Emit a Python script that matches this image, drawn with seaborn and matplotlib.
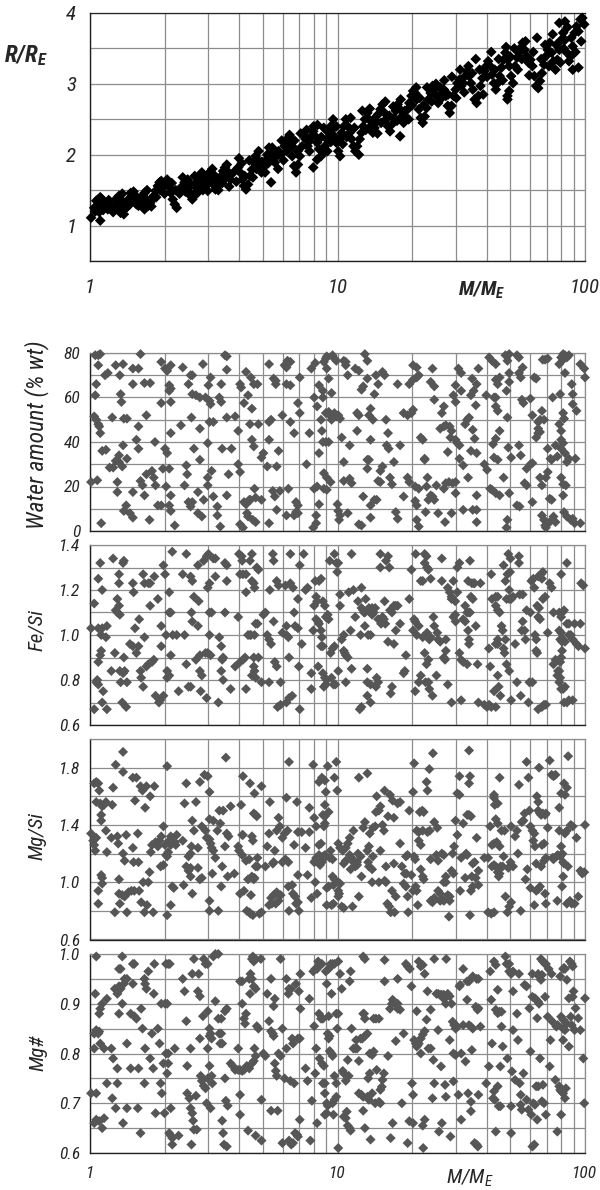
import matplotlib
matplotlib.use("Agg")
import matplotlib.pyplot as plt
import matplotlib.ticker as mticker
from matplotlib import font_manager
import pandas as pd
import seaborn as sns

# --- data (mass in Earth masses) ---
radius_pts = [
    (1.01,1.11),(1.04,1.25),(1.06,1.35),(1.08,1.37),(1.10,1.40),(1.12,1.37),(1.11,1.28),(1.09,1.19),(1.10,1.07),
    (1.14,1.32),(1.16,1.28),(1.18,1.23),(1.20,1.30),(1.22,1.28),(1.24,1.19),
    (1.27,1.37),(1.29,1.32),(1.31,1.42),(1.33,1.37),(1.36,1.28),(1.38,1.23),(1.33,1.18),(1.37,1.16),(1.41,1.32),(1.43,1.37),
    (1.46,1.46),(1.48,1.42),(1.51,1.37),(1.54,1.30),(1.57,1.28),(1.60,1.37),(1.63,1.42),(1.66,1.46),(1.69,1.37),(1.72,1.28),(1.75,1.32),
    (1.66,1.23),(1.78,1.37),(1.81,1.42),(1.84,1.49),(1.88,1.56),(1.91,1.61),(1.94,1.63),(1.98,1.56),(2.01,1.58),(2.09,1.54),(2.12,1.46),(2.16,1.37),(2.20,1.30),(2.24,1.25),
    (2.37,1.68),(2.41,1.61),(2.45,1.56),(2.50,1.49),(2.55,1.42),(2.59,1.37),(2.63,1.44),(2.68,1.54),(2.73,1.63),(2.78,1.70),(2.83,1.75),(2.88,1.65),(2.93,1.56),(2.99,1.49),
    (3.04,1.75),(3.10,1.65),(3.15,1.58),(3.21,1.51),(3.27,1.56),(3.33,1.63),(3.39,1.70),(3.45,1.77),(3.51,1.82),(3.57,1.86),(3.63,1.75),(3.70,1.65),
    (3.97,1.82),(4.04,1.75),(4.12,1.65),(4.19,1.56),(4.27,1.51),(4.35,1.58),(4.43,1.70),(4.51,1.79),(4.59,1.89),(4.67,1.98),(4.75,1.93),(4.84,1.84),(4.93,1.75),(5.02,1.82),(5.11,1.91),(5.20,2.00),(5.29,2.10),(5.39,2.00),
    (5.39,1.61),
    (5.48,1.93),(5.58,1.89),(5.68,1.98),(5.78,2.05),(5.89,2.00),(6.11,2.12),(6.22,2.17),(6.33,2.24),(6.45,2.22),(6.56,2.12),(6.68,1.84),(6.80,1.75),(6.92,1.86),(7.04,1.98),(6.56,1.98),
    (7.30,2.29),(7.43,2.22),(7.57,2.12),(7.70,2.19),(7.84,2.26),(7.98,2.33),(8.13,2.26),(8.27,2.17),(8.42,2.08),(8.58,1.98),(8.73,2.03),(8.89,2.12),(9.05,2.22),(9.21,2.31),(9.38,2.40),(9.55,2.36),(9.72,2.26),(9.89,2.17),(10.07,2.05),(10.24,1.98),
    (7.98,1.82),(8.27,1.93),
    (10.4,2.31),(10.6,2.40),(10.8,2.50),(11.0,2.40),(11.2,2.31),(11.4,2.22),(11.6,2.12),(11.8,2.05),(12.0,2.12),(12.3,2.22),(12.5,2.31),(12.7,2.40),(12.9,2.50),(13.2,2.59),(13.4,2.50),(13.6,2.40),(13.9,2.31),
    (14.1,2.38),(14.4,2.47),(14.6,2.57),(14.9,2.64),(15.2,2.71),(15.5,2.59),(15.7,2.50),(16.0,2.40),(16.3,2.33),(16.6,2.43),(16.9,2.52),(17.2,2.62),(17.5,2.71),(17.9,2.64),(18.2,2.54),(18.5,2.45),(18.9,2.52),
    (17.9,2.26),
    (19.2,2.64),(19.5,2.73),(19.9,2.83),(20.2,2.90),(20.6,2.87),(20.9,2.78),(21.3,2.64),(21.7,2.52),(22.1,2.45),(22.5,2.54),(22.9,2.66),(23.3,2.78),(23.8,2.87),(24.2,2.97),(24.6,2.92),
    (25.1,2.83),(25.5,2.73),(26.0,2.78),(26.4,2.87),(26.9,2.92),(27.4,2.83),(27.9,2.69),(28.4,2.59),(28.9,2.69),(29.4,2.83),(30.0,2.92),(30.5,3.01),(31.1,3.06),(31.6,2.97),(32.2,3.01),(32.8,3.11),(33.4,3.18),
    (34.0,3.11),(34.6,3.01),(35.2,2.92),(35.8,2.78),(36.5,2.73),(37.1,2.83),(37.8,2.97),(38.5,3.08),(39.2,3.18),(39.9,3.25),(40.6,3.32),(41.4,3.25),(42.1,3.13),(42.9,3.01),(43.6,2.92),
    (44.4,3.01),(45.2,3.11),(46.0,3.23),(46.9,3.34),(47.7,3.44),(48.6,3.34),(49.4,3.25),(50.3,3.11),(51.2,3.01),(49.4,2.90),(48.6,2.83),(48.6,2.78),
    (52.2,3.25),(53.1,3.37),(54.1,3.44),(55.0,3.51),(56.0,3.58),(57.0,3.48),(58.1,3.39),(59.1,3.30),(60.2,3.34),(61.3,3.25),(62.4,3.11),(63.5,2.97),(64.7,2.94),(65.8,3.04),(67.0,3.15),(68.3,3.27),(69.5,3.39),(70.7,3.48),(72.0,3.58),(73.3,3.44),
    (74.6,3.32),(76.0,3.20),(77.3,3.34),(78.7,3.48),(80.1,3.62),(81.6,3.72),(83.0,3.62),(84.5,3.44),(86.1,3.32),(87.6,3.39),(89.2,3.53),(90.8,3.72),(92.4,3.81),(94.1,3.74),(95.8,3.91),(97.5,3.93),(99.3,3.84),(89.2,3.20),(94.1,3.23),(78.7,3.86),(83.0,3.88),
    (1.05,1.20),(1.13,1.22),(1.19,1.36),(1.25,1.25),(1.30,1.22),(1.35,1.45),(1.40,1.25),(1.45,1.30),(1.50,1.48),(1.55,1.40),(1.62,1.32),(1.70,1.50),(1.77,1.27),(1.85,1.40),(1.92,1.50),(2.00,1.45),(2.05,1.65),(2.14,1.60),(2.22,1.50),(2.30,1.45),
    (2.35,1.55),(2.43,1.48),(2.48,1.65),(2.57,1.58),(2.65,1.70),(2.70,1.45),(2.80,1.58),(2.86,1.50),(2.95,1.70),(3.02,1.60),(3.12,1.80),(3.20,1.70),(3.30,1.50),(3.42,1.60),(3.55,1.68),(3.65,1.55),(3.80,1.75),(3.90,1.62),(4.00,1.95),(4.10,1.88),
    (4.22,1.70),(4.40,1.92),(4.55,1.68),(4.70,1.80),(4.80,2.05),(4.95,1.90),(5.10,1.75),(5.25,1.88),(5.45,2.10),(5.60,2.05),(5.75,1.80),(5.95,2.20),(6.05,1.92),(6.25,2.05),(6.40,2.28),(6.70,2.20),(6.90,2.05),(7.10,2.30),(7.20,2.12),(7.50,2.35),
    (7.70,2.05),(8.00,2.40),(8.30,2.42),(8.60,2.25),(8.80,2.38),(9.10,2.05),(9.40,2.18),(9.60,2.50),(9.90,2.40),(10.2,2.22),(10.5,2.15),(10.9,2.25),(11.3,2.52),(11.7,2.38),(12.2,2.00),(12.6,2.62),(13.0,2.35),(13.5,2.65),(14.0,2.50),(14.5,2.30),
    (15.0,2.45),(15.6,2.75),(16.2,2.55),(16.8,2.68),(17.4,2.48),(18.0,2.78),(18.7,2.62),(19.4,2.50),(20.0,2.70),(20.8,2.95),(21.5,2.80),(22.3,2.70),(23.0,2.95),(24.0,2.75),(25.0,3.00),(26.0,2.95),(27.0,3.05),(28.0,2.85),(29.0,3.10),(30.2,2.80),
    (31.3,3.20),(32.5,2.88),(33.8,3.25),(35.0,3.15),(36.2,3.35),(37.5,3.20),(38.8,2.85),(40.2,3.10),(41.8,3.45),(43.2,3.20),(44.8,3.35),(46.5,3.05),(48.0,3.52),(50.0,3.38),(51.8,3.50),(53.5,3.20),(55.5,3.35),(57.5,3.60),(59.5,3.12),(61.8,3.45),
    (64.0,3.65),(66.5,3.35),(69.0,3.55),(71.5,3.25),(74.0,3.70),(76.5,3.55),(79.5,3.30),(82.0,3.50),(85.0,3.80),(88.0,3.65),(91.5,3.45),(96.5,3.60),
]

water_pts = [
    (1.01,22),(1.05,79),(1.08,79),(1.10,79.5),(1.05,61),(1.06,66),(1.04,51.5),(1.06,50),(1.08,48),(1.09,47),(1.10,44),(1.08,74.5),(1.11,3.5),(1.07,22.8),(1.12,36),(1.16,36.5),(1.15,70),(1.18,71),(1.20,28.5),(1.24,28.5),
    (1.23,51),(1.27,74.5),(1.27,31.5),(1.31,31),(1.29,22),(1.31,34),(1.32,70),(1.33,61.5),(1.34,58),(1.35,29),(1.29,17.5),(1.36,75),(1.36,38.5),(1.37,50.5),(1.41,50.5),(1.37,9),(1.41,32.5),(1.40,11.5),(1.45,8),(1.49,6),
    (1.49,66),(1.49,17.5),(1.49,73),(1.57,73),(1.57,47),(1.54,41),(1.57,37),(1.60,79.5),(1.60,22.5),(1.63,20.5),(1.66,16),(1.66,66.5),(1.75,66.5),(1.69,52),(1.69,25.5),(1.74,5),(1.78,27),(1.81,24),(1.83,40),(1.84,20.5),
    (1.88,11.5),(1.94,76),(1.94,11.5),(1.94,57.5),(1.97,28),(2.09,28),(2.01,73),(2.05,72),(2.01,37),(2.05,35),(2.03,20),(2.09,65.5),(2.12,64),(2.09,63),(2.09,11.5),(2.12,9),(2.12,44),(2.12,58),(2.12,74.5),(2.20,2.5),
    (2.12,16),(2.33,47.5),(2.37,73.5),(2.41,20.5),(2.45,29.5),(2.47,25.5),(2.50,66),(2.50,13),(2.55,11),(2.59,13),(2.55,70),(2.59,70),(2.57,51),(2.59,61.5),(2.63,37),(2.68,61),(2.78,60),(2.73,17.5),(2.73,8),(2.78,32),
    (2.83,6.5),(2.78,46),(2.86,75),(2.88,14),(2.93,60),(2.99,24),(2.99,20.5),(2.99,39.5),(3.01,65.5),(3.04,58.5),(3.07,57),(3.04,49),(3.15,49),(3.10,27),(3.07,69),(3.15,15.5),(3.27,11),(3.27,7),(3.36,2),(3.33,60),
    (3.39,58),(3.39,66),(3.42,37),(3.51,79),(3.57,78.5),(3.57,72.5),(3.57,51),(3.57,16),(3.63,25.5),(3.73,37),(3.86,51.5),(3.97,45),(4.04,66),(4.08,64.5),(3.97,30),(4.04,26.5),(4.04,3),(4.15,1.5),(4.19,13),(4.27,12),
    (4.19,57.5),(4.27,71.5),(4.31,8),(4.35,6.5),(4.35,61),(4.40,14),(4.45,14),(4.43,48),(4.47,69),(4.51,55),(4.51,41),(4.55,5),(4.59,66),(4.59,38),(4.62,19),(4.67,15),(4.67,4),(4.75,66),(4.79,48),(4.93,33),
    (5.02,35),(4.93,14),(5.20,29),(5.29,75),(5.29,3.5),(5.29,49),(5.39,50),(5.29,41),(5.48,18),(5.52,68.5),(5.63,67.5),(5.63,66),(5.58,15.5),(5.68,9.5),(5.68,29),(5.78,36),(5.85,18),(5.99,52),(6.11,74.5),(6.22,73.5),
    (6.28,76.5),(6.45,76),(6.22,66),(6.45,65.5),(6.22,7),(6.33,19),(6.45,49),(6.68,44),(6.68,7),(6.80,8.5),(6.80,13),(6.92,57.5),(6.92,11.5),(7.04,69),(7.04,53),(6.92,8),(7.70,44),(7.50,30),(7.84,73),(8.05,60),
    (8.05,19),(8.27,20),(7.98,1.5),(8.20,3.5),(8.20,7),(8.13,75.5),(8.27,56),(8.42,12),(8.42,35),(8.42,65.5),(8.58,50),(8.65,45),(8.73,40),(8.73,63),(8.73,60),(8.81,76),(8.97,77.5),(9.05,78.5),(8.81,26),(9.05,24),
    (8.81,19),(9.05,18.5),(8.97,53),(9.21,53.5),(8.97,40),(9.21,40),(9.05,73),(9.21,68.5),(9.30,52),(9.38,22),(9.46,50),(9.46,62),(9.55,79),(9.72,77.5),(9.72,53),(9.89,51.5),(9.89,76.5),(10.0,12),(10.07,9),(10.24,7),
    (10.15,5),(10.07,52),(10.24,50.5),(10.4,42),(10.6,31),(10.6,76.5),(10.8,76),(10.8,74.5),(11.0,70),(10.6,22.5),(11.0,8),(11.2,23.5),(11.4,21.5),(11.2,38.5),(11.8,73),(12.2,72),(12.0,45),(12.0,53),(12.2,52),(12.2,3),
    (12.5,2.5),(12.7,65),(12.5,63.5),(12.7,15.5),(12.9,79.5),(13.2,76.5),(13.2,68.5),(13.2,32),(13.4,32),(13.2,28),(13.4,52),(13.6,55),(13.6,41),(13.6,6),(13.6,11.5),(13.9,50),(14.1,61.5),(14.1,14),(14.4,14),(14.3,70),
    (14.6,66),(14.6,22.5),(14.9,22),(14.9,27),(15.2,29),(15.2,71.5),(15.5,70),(15.7,50),(15.8,38.5),(16.1,37),(16.0,44),(16.3,24),(16.6,21),(16.9,31),(17.2,8.5),(17.5,5.5),(17.5,66),(17.9,38.5),(18.5,53),(19.2,52),
    (18.5,15.5),(19.2,24),(19.5,22),(19.5,66),(19.9,53),(20.2,54.5),(20.2,74.5),(20.9,73.5),(20.2,68),(20.9,69),(21.3,70),(20.6,13.5),(20.9,11.5),(20.6,20),(21.3,19),(20.9,5),(21.3,2),(21.7,42),(22.1,41),(22.5,32),
    (22.5,32.5),(22.9,20),(23.1,24),(22.7,8.5),(23.3,14),(23.8,16),(23.8,67),(24.2,15.5),(24.6,14),(24.2,73),(24.6,59),(24.6,65),(25.1,20.5),(25.5,8),(26.0,46),(26.9,47),(27.4,47.5),(26.4,53),(26.9,19),(27.2,4),
    (27.4,21.5),(28.2,22),(26.9,56),(27.9,35.5),(28.4,47),(28.9,45),(28.6,42),(28.9,8),(29.2,21.5),(30.0,22),(29.4,61),(30.0,58),(30.0,41),(30.5,39.5),(31.1,38.5),(30.0,65.5),(30.0,17),(30.8,73),(31.1,32.5),(31.6,63),
    (31.6,71),(32.2,29.5),(32.2,9.5),(32.8,48),(33.4,50),(34.0,51),(33.7,24),(34.6,36),(35.0,68.5),(35.2,45.5),(35.2,9.5),(35.5,63),(34.6,61),(35.8,41.5),(36.2,56.5),(36.5,9.5),(36.5,16),(36.5,4),(36.5,66),(36.5,35),
    (37.1,73),(39.2,30),(39.9,61),(40.2,27.5),(41.0,78),(42.1,76.5),(43.6,75),(41.4,19),(42.1,18.5),(42.5,39),(43.6,41.5),(42.9,60),(43.6,60),(42.9,33),(44.4,32),(43.6,56),(44.4,54),(43.6,68),(44.4,66),(45.2,69),
    (43.6,17),(45.2,16),(45.2,45),(46.9,24),(47.7,79),(49.4,79.5),(48.6,76.5),(48.2,63),(48.6,51),(48.6,5),(48.2,1.5),(49.0,37.5),(49.4,67),(49.4,71),(49.4,17),(50.3,33),(54.1,71),(55.0,69),(53.1,79),(54.1,78),
    (53.1,11.5),(54.4,11),(54.1,38.5),(55.0,34),(55.6,59),(56.4,57.5),(56.0,73.5),(57.0,21.5),(58.1,20.5),(58.1,28),(60.2,30),(61.3,30.5),(60.2,59.5),(61.3,13),(61.3,52),(62.4,69),(63.5,68.5),(63.5,42),(64.7,44),(65.8,44.5),
    (65.8,50),(64.7,49),(64.7,46),(65.8,24),(67.0,20.5),(67.0,7),(68.3,5),(69.0,2.5),(67.5,77),(69.0,77),(70.7,77.5),(67.0,54),(68.3,50),(69.5,1.5),(70.7,26.5),(70.7,37),(69.5,24),(72.0,4),(72.5,32.5),(73.3,32),
    (72.0,14.5),(73.3,14),(74.0,60),(74.6,6.5),(76.0,4),(76.0,38.5),(77.3,33.5),(78.7,48),(80.1,45),(78.7,75),(80.1,78),(81.6,79.5),(83.0,79),(84.5,78),(81.6,77),(79.4,61.5),(80.1,24),(81.6,21),(80.1,41),(81.6,39.5),
    (81.6,16),(80.1,37),(81.6,53),(82.3,50.5),(82.3,8.5),(84.5,6.5),(83.0,71),(83.0,35),(84.5,31),(83.7,20.5),(86.1,32.5),(86.1,79),(87.6,5),(89.2,5.5),(88.4,66),(89.2,61.5),(89.2,57),(90.8,3.5),(91.5,32.5),(92.4,54),
    (95.8,75),(95.8,3.5),(99.3,73),(100,69),
]

fe_si_pts = [
    (1.01,1.03),(1.04,1.14),(1.04,0.67),(1.06,0.79),(1.08,0.78),(1.07,0.80),(1.08,1.03),(1.12,1.03),(1.08,1.25),(1.10,1.32),(1.08,0.88),(1.10,0.91),(1.11,0.93),(1.12,1.20),(1.11,1.00),(1.12,0.70),(1.13,0.75),(1.16,0.99),(1.17,0.67),(1.17,1.04),
    (1.22,0.84),(1.24,1.34),(1.26,0.92),(1.27,1.11),(1.29,1.10),(1.29,1.16),(1.31,1.13),(1.31,1.27),(1.31,1.23),(1.32,1.09),(1.32,0.84),(1.33,0.79),(1.35,0.70),(1.36,0.83),(1.38,0.84),(1.37,1.33),(1.36,1.32),(1.37,0.90),(1.40,0.68),(1.41,0.79),
    (1.45,0.96),(1.49,0.95),(1.49,1.23),(1.50,1.19),(1.52,1.03),(1.54,0.92),(1.57,0.95),(1.58,1.07),(1.60,0.84),(1.61,0.81),(1.64,0.77),(1.64,1.27),(1.66,1.23),(1.66,0.99),(1.69,0.86),(1.72,0.87),(1.72,1.23),(1.75,1.23),(1.75,1.13),(1.78,0.88),
    (1.81,0.89),(1.82,1.26),(1.84,0.73),(1.88,1.16),(1.90,0.70),(1.92,0.71),(1.94,1.04),(1.94,0.95),(1.98,1.31),(1.98,0.73),(2.01,1.27),(2.03,1.00),(2.05,0.84),(2.05,0.81),(2.09,0.82),(2.09,1.19),(2.09,1.10),(2.12,1.10),(2.15,1.37),(2.16,1.00),
    (2.12,0.91),(2.24,1.00),(2.28,0.75),(2.37,1.27),(2.41,1.00),(2.45,1.36),(2.45,0.87),(2.50,0.77),(2.55,0.77),(2.55,1.26),(2.59,1.24),(2.57,1.10),(2.59,1.06),(2.63,1.17),(2.68,0.89),(2.73,1.04),(2.73,1.31),(2.75,1.15),(2.78,0.84),(2.78,0.91),
    (2.80,0.75),(2.83,0.82),(2.88,1.33),(2.96,1.35),(2.93,0.92),(2.99,0.92),(2.96,0.72),(2.99,1.21),(3.04,1.23),(3.01,1.36),(3.04,1.00),(3.04,1.10),(3.10,1.10),(3.07,0.91),(3.15,1.34),(3.21,1.34),(3.21,1.26),(3.30,0.70),(3.33,0.99),(3.39,0.95),
    (3.45,0.90),(3.42,0.89),(3.39,0.84),(3.45,0.80),(3.51,1.32),(3.57,1.31),(3.51,1.10),(3.57,1.24),(3.70,0.76),(3.86,0.86),(3.97,1.08),(4.00,1.36),(4.10,1.35),(4.12,1.33),(4.04,0.88),(4.15,0.89),(4.23,0.90),(4.04,1.27),(4.15,1.27),(4.27,1.27),
    (4.27,0.76),(4.27,1.19),(4.35,1.00),(4.43,1.00),(4.47,1.00),(4.43,1.33),(4.51,1.36),(4.51,1.24),(4.59,1.23),(4.62,1.21),(4.51,0.82),(4.59,0.86),(4.67,0.81),(4.62,0.84),(4.59,0.90),(4.62,1.00),(4.67,1.05),(4.75,1.05),(4.72,1.30),(4.79,1.29),
    (4.79,0.90),(4.93,0.79),(5.02,1.09),(5.11,1.10),(5.20,1.00),(5.29,0.98),(5.39,0.96),(5.29,0.79),(5.33,1.20),(5.48,1.36),(5.52,1.33),(5.52,1.06),(5.58,0.88),(5.68,0.86),(5.68,1.24),(5.73,0.68),(5.89,0.69),(5.78,1.22),(5.89,0.79),(5.99,1.01),
    (6.16,1.22),(6.22,1.04),(6.33,0.99),(6.22,1.00),(6.22,0.70),(6.37,0.72),(6.37,0.90),(6.45,1.36),(6.45,1.23),(6.61,1.21),(6.56,0.73),(6.68,1.10),(6.74,1.04),(6.92,1.03),(6.92,1.16),(6.98,0.86),(7.04,0.67),(7.04,1.31),(7.17,0.96),(7.30,1.36),
    (7.43,1.20),(7.57,1.21),(7.84,0.83),(7.84,0.76),(7.98,1.02),(8.05,1.13),(8.20,1.17),(8.27,1.15),(8.13,1.24),(8.20,1.07),(8.35,1.06),(8.35,0.86),(8.42,1.24),(8.58,1.25),(8.42,1.05),(8.58,1.02),(8.65,0.99),(8.58,0.95),(8.73,0.95),(8.73,0.83),
    (8.89,0.81),(8.73,1.15),(8.89,1.13),(8.81,0.77),(8.97,0.78),(8.97,1.08),(9.13,1.09),(9.05,0.80),(9.21,1.07),(9.30,1.33),(9.38,0.92),(9.46,0.81),(9.55,0.94),(9.72,0.95),(9.63,0.78),(9.80,0.78),(9.72,1.36),(9.89,1.32),(10.07,1.32),(9.98,1.28),
    (10.07,0.84),(10.24,1.18),(10.24,1.13),(10.4,0.98),(10.6,1.00),(10.6,0.93),(10.8,0.91),(11.0,0.90),(10.7,0.92),(10.8,0.79),(11.1,1.19),(11.3,1.02),(11.4,1.36),(11.4,0.85),(11.6,1.20),(11.8,1.08),(12.1,1.15),(12.3,0.67),(12.5,0.68),(12.4,1.00),
    (12.5,1.21),(12.5,1.12),(12.7,1.11),(12.8,1.10),(12.9,1.10),(12.9,1.04),(13.0,1.16),(13.2,0.73),(13.2,0.85),(13.2,0.79),(13.6,0.78),(13.3,1.00),(13.6,1.00),(13.4,1.12),(13.6,1.10),(13.8,1.09),(13.6,0.70),(13.8,1.12),(14.0,1.10),(14.2,1.12),
    (14.3,0.77),(14.4,0.81),(14.6,0.79),(14.6,1.07),(14.9,1.36),(14.9,1.30),(15.0,1.05),(15.2,1.08),(15.4,1.07),(15.5,1.15),(15.6,1.05),(15.7,1.33),(16.0,1.35),(16.0,0.97),(16.2,1.30),(16.3,1.11),(16.6,1.10),(16.4,0.74),(16.6,0.77),(16.9,1.13),
    (17.2,1.13),(17.5,1.13),(16.9,0.96),(17.2,1.02),(17.9,1.05),(18.5,0.83),(18.7,0.84),(18.9,0.91),(19.5,1.16),(19.9,1.29),(20.2,1.02),(20.4,1.07),(20.6,1.06),(20.6,0.75),(20.7,1.36),(20.9,1.00),(21.3,1.04),(21.3,0.79),(21.7,1.24),(21.7,0.82),
    (22.1,0.99),(22.1,1.24),(22.5,1.36),(22.9,1.35),(22.5,1.32),(23.0,1.30),(23.3,1.29),(22.5,0.92),(22.9,0.87),(23.3,0.89),(22.7,0.79),(23.3,0.79),(23.5,0.76),(23.0,1.01),(23.5,0.98),(23.8,0.99),(23.8,1.25),(24.2,0.73),(24.4,1.08),(24.6,1.04),
    (25.3,1.01),(25.1,0.82),(25.5,0.98),(26.0,0.97),(26.4,1.34),(26.4,1.24),(26.9,0.90),(27.2,0.89),(27.4,0.98),(27.4,0.93),(27.9,0.78),(27.9,1.21),(28.4,1.19),(28.9,1.17),(28.9,1.16),(29.9,1.15),(28.9,0.70),(29.4,1.24),(29.4,1.08),(29.9,1.09),
    (30.0,1.06),(30.5,1.19),(30.5,1.30),(31.1,1.32),(31.1,0.92),(31.6,0.89),(32.2,0.88),(31.6,0.71),(32.2,1.07),(32.8,1.06),(32.8,1.13),(33.4,0.87),(33.4,1.10),(34.0,1.10),(34.3,1.10),(33.7,1.24),(34.0,0.96),(34.0,0.98),(33.7,1.02),(34.3,1.33),
    (34.6,1.17),(35.2,1.16),(34.9,1.23),(35.5,1.23),(35.8,1.23),(36.2,1.04),(36.8,0.87),(37.1,0.70),(37.8,1.23),(39.2,0.69),(40.2,0.68),(41.0,0.69),(41.8,0.68),(43.6,0.68),(40.9,0.94),(41.4,0.86),(41.8,1.27),(42.1,1.16),(43.6,1.17),(44.4,1.17),
    (42.9,0.75),(43.6,1.13),(44.4,1.11),(43.6,0.96),(44.4,0.96),(44.4,0.82),(44.4,0.98),(44.8,0.77),(45.2,1.10),(45.5,0.73),(46.0,1.04),(46.5,1.02),(46.9,1.31),(46.9,0.94),(47.3,0.92),(47.7,0.98),(47.7,1.24),(48.6,1.27),(49.8,1.28),(48.2,0.87),
    (48.2,1.16),(49.4,1.16),(49.0,1.36),(50.0,1.34),(49.4,0.84),(49.4,1.20),(50.3,0.71),(50.3,1.16),(51.2,1.17),(52.2,0.96),(53.1,0.79),(54.1,1.35),(54.1,1.32),(54.5,1.18),(56.0,1.18),(55.0,0.73),(55.5,1.02),(56.0,1.06),(57.0,1.02),(57.5,0.98),
    (58.1,1.11),(59.1,0.70),(59.6,0.79),(61.3,0.79),(60.2,1.10),(60.7,1.24),(61.8,1.25),(62.4,1.21),(62.8,1.00),(63.5,0.98),(63.5,0.93),(64.1,0.92),(64.1,1.13),(65.2,1.12),(64.7,1.08),(65.8,1.07),(64.7,0.67),(67.0,0.68),(68.3,0.69),(64.7,1.26),
    (66.4,1.27),(67.6,1.28),(67.0,1.25),(67.6,1.16),(69.0,1.17),(69.5,0.69),(70.7,1.01),(72.0,1.23),(73.3,1.21),(74.6,0.87),(76.0,0.89),(74.6,1.10),(77.3,0.82),(77.8,0.84),(78.7,0.84),(79.4,0.88),(80.1,0.90),(78.7,0.79),(79.4,0.81),(78.7,1.10),
    (80.1,1.08),(80.8,1.10),(82.3,1.11),(78.7,1.02),(80.1,1.01),(81.6,0.98),(80.8,0.93),(79.4,0.98),(80.1,0.76),(81.6,0.76),(80.1,1.27),(80.8,0.97),(83.0,0.97),(82.3,0.70),(84.5,0.70),(86.1,0.71),(89.2,0.71),(84.5,1.05),(86.1,1.05),(83.0,0.77),
    (84.5,1.32),(86.1,1.00),(87.6,1.00),(89.2,0.98),(90.8,1.05),(92.4,0.96),(94.1,0.95),(95.8,1.05),(96.5,1.23),(98.4,1.22),(100,0.94),
]

mg_si_pts = [
    (1.01,1.34),(1.03,1.29),(1.04,1.26),(1.05,1.22),(1.04,1.69),(1.06,1.70),(1.08,1.69),(1.06,1.56),(1.06,1.31),(1.08,0.94),(1.08,0.85),(1.09,1.64),(1.10,1.55),(1.12,1.53),(1.14,1.54),(1.11,1.47),(1.11,1.43),(1.11,1.05),(1.12,1.03),(1.12,0.99),
    (1.16,1.56),(1.16,1.36),(1.17,1.21),(1.22,1.31),(1.23,1.54),(1.24,1.66),(1.26,0.79),(1.27,1.82),(1.29,1.32),(1.30,1.27),(1.31,1.02),(1.31,0.92),(1.35,0.91),(1.32,0.85),(1.36,1.91),(1.36,1.77),(1.36,1.20),(1.38,1.15),(1.38,0.90),(1.40,1.33),
    (1.41,0.79),(1.43,0.93),(1.47,0.94),(1.51,0.94),(1.49,1.24),(1.49,1.73),(1.50,1.14),(1.52,1.57),(1.54,1.73),(1.56,1.34),(1.57,1.14),(1.58,0.94),(1.60,1.67),(1.61,0.86),(1.63,1.64),(1.64,1.00),(1.66,0.79),(1.67,1.52),(1.69,1.67),(1.70,0.84),
    (1.72,1.00),(1.74,1.07),(1.75,1.60),(1.76,1.21),(1.78,1.26),(1.80,0.79),(1.82,1.67),(1.84,1.28),(1.88,1.25),(1.91,1.29),(1.94,1.32),(1.93,1.11),(1.98,1.12),(1.98,1.39),(2.01,1.26),(2.03,1.19),(2.05,1.18),(2.07,1.21),(2.05,1.81),(2.05,0.77),
    (2.09,1.29),(2.12,1.26),(2.12,1.32),(2.12,0.84),(2.15,0.97),(2.18,0.96),(2.15,1.28),(2.20,1.28),(2.22,1.26),(2.24,1.33),(2.37,1.29),(2.39,0.98),(2.41,1.55),(2.45,1.69),(2.45,1.11),(2.50,1.08),(2.55,1.10),(2.50,1.18),(2.55,1.20),(2.55,1.04),
    (2.57,1.25),(2.59,1.43),(2.59,0.92),(2.63,1.36),(2.68,1.56),(2.73,1.24),(2.73,1.10),(2.78,1.02),(2.83,1.03),(2.78,1.70),(2.83,1.39),(2.90,1.75),(2.99,1.74),(2.93,1.36),(2.96,1.31),(3.04,1.30),(3.07,1.27),(3.04,1.63),(3.04,0.87),(3.04,0.80),
    (3.04,1.44),(3.15,1.43),(3.10,1.24),(3.15,1.22),(3.12,1.06),(3.21,1.17),(3.27,1.36),(3.30,0.80),(3.33,1.50),(3.36,1.41),(3.39,0.97),(3.42,1.11),(3.45,1.50),(3.51,1.25),(3.54,1.87),(3.57,1.34),(3.60,1.04),(3.63,1.32),(3.70,1.53),(3.83,1.06),
    (3.97,1.25),(4.00,1.22),(4.04,0.92),(4.08,1.54),(4.12,1.33),(4.15,1.33),(4.12,1.19),(4.15,1.74),(4.19,0.94),(4.27,1.15),(4.30,0.80),(4.40,0.79),(4.45,0.78),(4.55,0.77),(4.35,1.02),(4.40,1.16),(4.43,1.69),(4.47,0.91),(4.51,1.32),(4.55,1.29),
    (4.51,1.04),(4.59,1.02),(4.62,1.03),(4.59,1.48),(4.67,1.47),(4.72,1.46),(4.62,1.62),(4.67,1.11),(4.75,1.11),(4.75,1.17),(4.84,0.78),(4.93,0.79),(4.93,1.67),(5.11,1.11),(5.20,1.25),(5.29,1.34),(5.29,0.84),(5.43,0.85),(5.33,1.56),(5.39,0.89),
    (5.48,1.13),(5.52,1.14),(5.52,0.91),(5.63,0.92),(5.68,0.93),(5.58,1.22),(5.63,0.85),(5.78,0.87),(5.68,1.36),(5.85,1.39),(5.78,1.45),(5.89,0.91),(5.99,1.31),(6.11,1.34),(5.99,1.14),(6.16,1.16),(6.33,1.14),(6.22,1.59),(6.28,1.36),(6.33,0.97),
    (6.37,1.84),(6.37,0.80),(6.56,0.98),(6.61,0.92),(6.74,0.90),(6.80,0.85),(6.92,0.86),(6.68,1.26),(6.86,1.56),(6.92,1.05),(6.92,1.35),(6.98,0.80),(7.17,1.35),(7.43,1.24),(7.57,1.05),(7.70,1.52),(7.70,1.35),(7.84,0.89),(7.98,1.82),(8.05,1.14),
    (8.20,1.17),(8.27,1.16),(8.42,1.19),(8.13,1.15),(8.05,1.45),(8.13,1.00),(8.20,1.39),(8.27,0.92),(8.42,1.70),(8.65,1.73),(8.89,1.71),(8.42,1.26),(8.58,1.27),(8.50,1.12),(8.65,1.14),(8.81,1.17),(8.73,1.18),(8.89,1.19),(8.73,1.47),(8.89,1.46),
    (8.81,1.39),(8.89,1.41),(8.89,1.54),(8.97,1.63),(9.05,0.84),(9.05,0.96),(9.21,0.97),(9.13,1.81),(9.21,1.49),(9.30,1.17),(9.55,1.16),(9.38,1.22),(9.46,0.84),(9.63,0.85),(9.55,1.04),(9.72,1.02),(9.63,0.98),(9.72,1.73),(9.89,1.84),(9.98,1.64),
    (10.07,1.00),(10.24,0.99),(10.07,0.94),(10.07,1.27),(10.24,1.24),(10.07,0.90),(10.15,0.92),(10.4,0.83),(10.6,0.82),(10.5,1.22),(10.8,1.24),(10.6,1.13),(10.8,1.15),(11.0,1.27),(11.2,1.31),(11.2,1.19),(11.4,1.17),(11.6,1.14),(11.3,1.09),(11.5,0.83),
    (11.6,1.36),(11.8,1.11),(12.0,1.12),(12.0,1.14),(12.1,1.20),(12.4,1.18),(12.2,1.73),(12.2,0.90),(12.5,1.04),(12.7,1.38),(12.9,1.42),(13.2,1.76),(13.2,1.22),(13.4,1.25),(13.3,1.14),(13.4,1.11),(13.5,1.34),(13.8,1.09),(13.9,1.18),(13.8,1.00),
    (13.9,1.38),(14.2,1.39),(14.3,1.49),(14.7,1.50),(14.4,1.60),(14.7,1.00),(14.9,1.53),(14.9,1.22),(15.2,1.40),(15.4,1.36),(15.5,1.01),(15.7,1.00),(15.5,1.64),(15.7,1.11),(15.9,0.85),(16.2,0.83),(16.0,1.46),(16.3,1.61),(16.4,0.79),(16.6,0.94),
    (16.7,1.57),(16.9,1.45),(16.9,1.13),(17.0,0.79),(17.2,0.90),(17.5,1.55),(17.9,1.56),(17.9,1.27),(18.2,1.11),(18.5,0.99),(18.9,0.97),(18.7,1.06),(19.0,1.06),(18.9,1.18),(19.2,1.19),(19.2,0.90),(19.3,0.79),(19.5,1.50),(19.9,1.05),(20.2,1.63),
    (20.2,0.94),(20.4,1.18),(20.6,1.16),(20.4,1.83),(20.7,0.97),(20.9,0.94),(20.9,1.36),(21.3,1.35),(21.1,0.84),(21.3,1.29),(21.7,1.26),(21.5,1.49),(22.0,1.50),(22.3,1.49),(21.7,1.09),(22.1,1.04),(22.1,1.36),(22.3,1.02),(22.9,1.70),(23.1,1.64),
    (23.1,1.35),(23.6,1.36),(23.5,1.79),(23.8,1.16),(23.8,0.87),(24.2,0.86),(24.6,0.89),(24.3,1.90),(24.6,1.42),(25.3,1.38),(25.1,1.19),(25.5,1.15),(25.5,0.94),(26.0,0.92),(26.0,0.87),(26.4,0.88),(26.9,0.87),(26.4,1.20),(26.9,1.19),(26.9,1.00),
    (27.4,1.00),(27.4,1.04),(27.9,0.91),(28.4,0.90),(28.2,0.76),(28.4,0.87),(28.9,1.08),(29.4,1.06),(29.2,1.20),(29.6,1.25),(30.0,1.43),(30.5,1.33),(30.5,1.62),(31.1,1.61),(31.1,1.74),(31.3,0.94),(31.6,1.17),(32.2,1.41),(32.8,1.03),(33.1,1.20),
    (33.4,1.19),(33.4,1.47),(34.0,1.47),(34.6,1.46),(34.0,1.92),(34.0,1.69),(34.3,1.74),(34.3,0.77),(34.6,0.94),(35.2,0.97),(34.9,1.04),(35.2,1.13),(35.8,1.14),(36.2,1.03),(36.5,1.31),(37.1,1.08),(37.1,0.98),(39.2,1.17),(40.6,1.17),(40.6,0.79),
    (41.8,0.78),(42.9,0.79),(41.4,1.39),(42.1,1.26),(42.9,1.27),(42.1,1.11),(42.9,1.12),(43.6,1.11),(42.9,1.59),(42.9,1.61),(43.2,1.54),(44.4,1.55),(43.6,1.44),(44.4,1.41),(44.0,1.28),(44.4,1.07),(45.2,1.06),(44.8,1.04),(45.2,1.73),(45.2,1.25),
    (45.6,1.11),(46.5,1.11),(46.0,1.36),(46.9,1.18),(47.3,1.36),(47.7,0.90),(48.6,0.79),(49.4,0.83),(50.3,0.86),(49.0,1.10),(50.0,1.14),(50.3,1.39),(51.2,1.11),(52.2,1.32),(53.1,1.36),(53.6,1.20),(54.1,1.68),(55.0,0.80),(55.5,1.42),(56.4,1.43),
    (57.0,1.48),(57.5,1.02),(58.1,1.84),(58.5,1.09),(59.1,1.73),(59.6,1.50),(60.2,0.96),(60.2,1.39),(61.3,1.36),(62.4,1.34),(61.8,1.29),(62.4,0.84),(62.8,1.25),(63.5,1.13),(63.5,0.94),(64.7,0.95),(65.8,0.97),(63.9,1.60),(64.7,1.56),(64.7,1.50),
    (65.8,1.48),(66.5,1.47),(65.2,1.80),(66.5,1.11),(67.0,1.26),(68.3,1.27),(67.6,1.48),(69.0,1.47),(69.5,1.48),(68.3,1.15),(69.5,1.17),(69.0,0.92),(69.5,0.85),(70.7,1.38),(72.0,1.85),(73.3,1.75),(74.6,1.74),(76.0,1.75),(73.9,1.17),(74.9,1.17),
    (74.6,1.16),(76.6,1.18),(77.6,1.19),(77.3,0.87),(78.7,1.52),(78.7,1.36),(79.4,1.18),(80.1,1.19),(81.0,1.20),(80.1,1.62),(80.1,1.25),(81.6,1.04),(80.8,0.97),(81.6,1.14),(82.3,1.13),(82.3,1.69),(83.0,1.61),(84.5,1.66),(83.0,1.34),(84.5,1.36),
    (84.5,0.85),(85.3,1.11),(85.5,1.88),(86.9,0.87),(87.6,1.40),(89.2,1.39),(88.4,0.85),(90.8,0.85),(92.4,1.31),(93.9,0.90),(95.8,1.08),(97.5,1.06),(100,1.40),(99.3,1.07),
]

mg_num_pts = [
    (1.01,0.72),(1.04,0.66),(1.05,0.92),(1.06,0.995),(1.06,0.72),(1.06,0.667),(1.09,0.664),(1.06,0.847),(1.09,0.844),(1.08,0.84),(1.04,0.84),(1.04,0.81),(1.09,0.88),(1.10,0.89),(1.10,0.82),(1.12,0.90),(1.12,0.65),(1.14,0.67),(1.14,0.81),(1.17,0.74),
    (1.17,0.91),(1.22,0.81),(1.23,0.71),(1.24,0.79),(1.26,0.93),(1.27,0.69),(1.29,0.92),(1.31,0.935),(1.33,0.93),(1.29,0.77),(1.29,0.74),(1.31,0.88),(1.31,0.97),(1.33,0.97),(1.35,0.995),(1.35,0.90),(1.36,0.66),(1.37,0.94),(1.38,0.95),(1.41,0.95),
    (1.41,0.69),(1.41,0.82),(1.46,0.77),(1.46,0.88),(1.49,0.98),(1.51,0.98),(1.49,0.94),(1.51,0.875),(1.54,0.87),(1.56,0.69),(1.57,0.77),(1.60,0.64),(1.61,0.89),(1.63,0.85),(1.66,0.95),(1.67,0.94),(1.69,0.93),(1.66,0.74),(1.67,0.81),(1.72,0.965),
    (1.75,0.79),(1.78,0.84),(1.80,0.77),(1.81,0.92),(1.82,0.98),(1.84,0.68),(1.88,0.85),(1.91,0.82),(1.93,0.74),(1.94,0.90),(1.95,0.72),(1.98,0.78),(2.00,0.68),(2.01,0.90),(2.05,0.90),(2.03,0.98),(2.07,0.98),(2.10,0.98),(2.03,0.80),(2.07,0.80),
    (2.05,0.76),(2.07,0.78),(2.09,0.64),(2.12,0.635),(2.15,0.63),(2.12,0.69),(2.15,0.617),(2.20,0.81),(2.28,0.635),(2.37,0.95),(2.41,0.925),(2.45,0.865),(2.47,0.775),(2.47,0.72),(2.52,0.71),(2.55,0.69),(2.59,0.68),(2.55,0.81),(2.57,0.617),(2.59,0.96),
    (2.61,0.665),(2.63,0.647),(2.63,0.99),(2.68,0.715),(2.70,0.647),(2.73,0.925),(2.78,0.915),(2.75,0.96),(2.78,0.83),(2.80,0.755),(2.83,0.745),(2.88,0.735),(2.86,0.875),(2.88,0.99),(2.93,0.98),(2.99,0.98),(2.93,0.73),(2.99,0.75),(2.96,0.70),(2.99,0.885),
    (2.99,0.81),(3.04,0.85),(3.04,0.835),(3.10,0.83),(3.07,0.84),(3.04,0.775),(3.10,0.755),(3.07,0.69),(3.12,0.74),(3.15,0.995),(3.21,1.0),(3.30,1.0),(3.21,0.905),(3.30,0.87),(3.39,0.87),(3.33,0.84),(3.39,0.84),(3.36,0.82),(3.42,0.82),(3.42,0.665),
    (3.45,0.64),(3.48,0.617),(3.51,0.885),(3.57,0.89),(3.51,0.75),(3.54,0.705),(3.60,0.695),(3.57,0.613),(3.70,0.78),(3.77,0.775),(3.86,0.767),(3.97,0.767),(4.04,0.767),(4.12,0.765),(4.19,0.767),(3.97,0.81),(4.04,0.717),(4.04,0.677),(4.04,0.945),(4.12,0.945),
    (4.12,0.90),(4.19,0.87),(4.23,0.86),(4.27,0.88),(4.30,0.775),(4.40,0.77),(4.35,0.645),(4.40,0.95),(4.45,0.96),(4.51,0.95),(4.43,0.92),(4.51,0.99),(4.59,0.985),(4.67,0.99),(4.55,0.995),(4.51,0.78),(4.59,0.785),(4.67,0.795),(4.62,0.81),(4.59,0.935),
    (4.67,0.93),(4.67,0.635),(4.72,0.855),(4.79,0.85),(4.90,0.99),(4.93,0.707),(4.93,0.625),(5.02,0.80),(5.11,0.795),(5.20,0.92),(5.29,0.865),(5.39,0.845),(5.39,0.95),(5.39,0.685),(5.48,0.84),(5.52,0.835),(5.52,0.895),(5.58,0.91),(5.58,0.78),(5.63,0.765),
    (5.68,0.755),(5.73,0.685),(5.78,0.80),(5.89,0.795),(5.89,0.99),(5.99,0.85),(5.99,0.62),(6.11,0.75),(6.22,0.95),(6.22,0.81),(6.33,0.92),(6.37,0.93),(6.50,0.93),(6.37,0.625),(6.50,0.617),(6.61,0.62),(6.45,0.745),(6.56,0.83),(6.61,0.82),(6.68,0.74),
    (6.74,0.64),(6.86,0.637),(6.92,0.633),(6.80,0.94),(6.92,0.83),(7.04,0.83),(6.98,0.925),(7.04,0.667),(7.08,0.89),(7.08,0.96),(7.43,0.77),(7.57,0.745),(7.70,0.91),(7.77,0.625),(7.88,0.705),(7.98,0.965),(8.13,0.97),(8.27,0.97),(8.05,0.855),(8.13,0.76),
    (8.20,0.81),(8.27,0.66),(8.35,0.985),(8.46,0.98),(8.65,0.98),(8.42,0.88),(8.58,0.87),(8.73,0.87),(8.46,0.79),(8.65,0.78),(8.81,0.775),(8.73,0.74),(8.89,0.74),(8.89,0.72),(9.05,0.70),(9.13,0.695),(8.89,0.677),(9.05,0.68),(8.97,0.965),(9.21,0.97),
    (9.38,0.975),(9.05,0.94),(9.13,0.84),(9.21,0.83),(9.30,0.835),(9.21,0.875),(9.30,0.805),(9.46,0.80),(9.55,0.795),(9.46,0.92),(9.38,0.98),(9.55,0.98),(9.72,0.98),(9.55,0.70),(9.72,0.707),(9.89,0.713),(9.63,0.677),(9.72,0.755),(9.89,0.74),(9.89,0.88),
    (10.07,0.88),(9.98,0.85),(10.07,0.985),(10.07,0.61),(10.24,0.96),(10.4,0.93),(10.5,0.765),(10.6,0.76),(10.6,0.673),(10.8,0.67),(10.8,0.745),(10.9,0.683),(11.0,0.655),(11.2,0.65),(11.3,0.645),(11.0,0.787),(11.1,0.755),(11.2,0.945),(11.3,0.965),(11.4,0.85),
    (11.6,0.81),(11.8,0.81),(12.0,0.81),(11.9,0.827),(12.2,0.785),(12.2,0.72),(12.5,0.717),(12.7,0.713),(12.4,0.83),(12.6,0.83),(12.7,0.685),(12.7,0.88),(12.8,0.88),(12.9,0.87),(12.9,0.835),(13.2,0.84),(12.7,0.995),(12.9,0.99),(12.9,0.65),(13.2,0.713),
    (13.4,0.707),(13.3,0.75),(13.5,0.76),(13.5,0.80),(13.8,0.797),(14.0,0.804),(13.6,0.627),(13.8,0.72),(14.0,0.87),(14.3,0.87),(14.7,0.87),(14.2,0.70),(14.4,0.767),(14.7,0.703),(14.9,0.727),(15.1,0.733),(14.9,0.70),(15.2,0.747),(15.4,0.76),(15.5,0.988),
    (15.5,0.945),(16.0,0.795),(16.3,0.89),(16.6,0.90),(16.7,0.908),(16.4,0.63),(16.7,0.66),(16.9,0.905),(17.2,0.90),(17.5,0.90),(17.2,0.825),(17.5,0.89),(17.9,0.888),(17.5,0.95),(18.2,0.70),(18.5,0.84),(18.9,0.98),(19.2,0.975),(19.2,0.62),(19.5,0.664),
    (19.6,0.97),(19.9,0.935),(20.0,0.74),(20.2,0.717),(20.2,0.66),(20.4,0.827),(20.7,0.82),(20.9,0.814),(21.1,0.817),(20.9,0.885),(21.3,0.82),(21.7,0.83),(22.1,0.838),(22.5,0.845),(21.3,0.985),(21.7,0.975),(22.1,0.978),(21.7,0.80),(22.1,0.655),(22.5,0.667),
    (22.2,0.61),(22.5,0.96),(22.9,0.868),(23.1,0.925),(23.3,0.81),(23.8,0.81),(23.8,0.888),(24.2,0.71),(24.4,0.787),(24.6,0.99),(24.6,0.74),(25.1,0.92),(25.5,0.92),(25.5,0.847),(25.7,0.643),(26.0,0.918),(26.4,0.918),(26.9,0.918),(26.2,0.774),(26.4,0.66),
    (26.9,0.91),(27.4,0.90),(27.2,0.737),(27.4,0.713),(27.5,0.99),(27.9,0.92),(28.4,0.915),(28.4,0.827),(28.6,0.633),(28.9,0.90),(29.2,0.864),(29.6,0.857),(29.4,0.80),(30.0,0.797),(29.4,0.744),(30.0,0.85),(30.5,0.854),(30.8,0.717),(31.1,0.935),(31.3,0.938),
    (31.6,0.80),(31.6,0.667),(32.2,0.97),(32.2,0.857),(32.9,0.784),(33.4,0.945),(34.0,0.945),(33.4,0.908),(33.7,0.72),(34.0,0.857),(34.6,0.854),(35.2,0.85),(34.6,0.703),(34.6,0.684),(34.9,0.807),(35.2,0.955),(35.8,0.62),(36.5,0.617),(36.9,0.613),(36.2,0.894),
    (36.8,0.888),(37.1,0.891),(36.5,0.95),(37.1,0.95),(37.1,0.717),(37.8,0.854),(39.9,0.74),(40.9,0.774),(41.4,0.965),(41.8,0.908),(42.1,0.82),(42.5,0.71),(43.2,0.707),(42.9,0.724),(42.9,0.985),(43.6,0.978),(43.6,0.888),(44.4,0.881),(43.6,0.643),(44.4,0.928),
    (44.4,0.734),(44.8,0.694),(45.5,0.694),(45.2,0.884),(46.0,0.884),(45.5,0.774),(46.0,0.854),(46.5,0.814),(47.7,0.995),(48.2,0.98),(49.4,0.98),(48.6,0.79),(49.4,0.965),(50.3,0.96),(51.2,0.965),(50.3,0.694),(50.3,0.64),(50.7,0.764),(51.2,0.847),(51.2,0.925),
    (52.2,0.747),(53.1,0.88),(53.6,0.827),(54.1,0.96),(54.5,0.74),(55.0,0.717),(55.0,0.697),(55.5,0.687),(56.4,0.76),(57.0,0.938),(58.1,0.935),(58.1,0.707),(59.1,0.687),(59.6,0.891),(60.2,0.804),(60.7,0.677),(61.3,0.613),(62.4,0.617),(61.3,0.96),(61.3,0.914),
    (61.8,0.70),(62.8,0.697),(62.8,0.911),(63.5,0.908),(64.7,0.904),(65.2,0.90),(63.5,0.734),(64.7,0.734),(64.1,0.871),(64.1,0.667),(64.7,0.96),(65.2,0.955),(66.4,0.948),(67.0,0.958),(65.8,0.79),(66.4,0.99),(67.6,0.985),(69.0,0.98),(69.5,0.98),(67.0,0.704),
    (68.3,0.70),(67.6,0.737),(69.0,0.914),(69.5,0.677),(70.7,0.874),(71.3,0.97),(72.0,0.774),(72.5,0.827),(73.3,0.96),(73.9,0.864),(75.9,0.747),(76.6,0.854),(77.6,0.857),(77.3,0.643),(78.7,0.734),(79.4,0.727),(80.1,0.724),(81.6,0.72),(79.4,0.955),(80.1,0.677),
    (80.1,0.874),(81.6,0.868),(81.6,0.97),(82.3,0.972),(83.0,0.97),(81.6,0.85),(83.0,0.847),(81.6,0.827),(83.0,0.71),(83.7,0.73),(84.5,0.948),(84.5,0.86),(86.1,0.814),(86.1,0.911),(86.9,0.985),(88.4,0.98),(89.2,0.975),(87.6,0.874),(88.4,0.857),(89.2,0.914),
    (89.9,0.925),(90.8,0.847),(91.6,0.891),(93.9,0.871),(95.8,0.847),(98.4,0.79),(99.3,0.70),(100,0.911),
]

# --- style ---
sns.set_style("white")
names = {f.name for f in font_manager.fontManager.ttflist}
FAM = next((f for f in ["Liberation Sans Narrow", "Roboto Condensed", "Liberation Sans"] if f in names), "DejaVu Sans")
plt.rcParams['font.family'] = [FAM, 'DejaVu Sans']
plt.rcParams['font.style'] = 'italic'
plt.rcParams['mathtext.fontset'] = 'custom'
plt.rcParams['mathtext.it'] = f'{FAM}:italic'
plt.rcParams['mathtext.rm'] = f'{FAM}:italic'
plt.rcParams['mathtext.bf'] = f'{FAM}:italic:bold'

GRID = '#8c8c8c'
DOT = '#565656'
W, H = 600, 1190

fig = plt.figure(figsize=(W / 100, H / 100), dpi=100)


def axes_px(top, bottom, left=90, right=585):
    return fig.add_axes([left / W, 1 - bottom / H, (right - left) / W, (bottom - top) / H])


def style(ax, ylim, yticks, yminor, fmt, tick_size, xlabels):
    ax.set_xscale('log')
    ax.set_xlim(1, 100)
    ax.set_ylim(*ylim)
    ax.set_xticks([1, 10, 100])
    ax.set_xticks([m * d for d in (1, 10) for m in range(2, 10)], minor=True)
    ax.set_xticklabels(['1', '10', '100'] if xlabels else [])
    ax.set_yticks(yticks)
    ax.set_yticks(yminor, minor=True)
    ax.yaxis.set_major_formatter(mticker.FormatStrFormatter(fmt))
    ax.grid(True, which='both', color=GRID, lw=0.9)
    ax.set_axisbelow(True)
    ax.tick_params(axis='x', which='major', direction='out', length=4, width=1,
                   color='#333333', labelsize=tick_size, pad=5)
    ax.tick_params(axis='x', which='minor', length=0)
    ax.tick_params(axis='y', which='both', direction='out', length=4, width=1,
                   color='#333333', labelsize=tick_size, pad=3)
    for s in ('top', 'right'):
        ax.spines[s].set_color(GRID)
        ax.spines[s].set_linewidth(0.9)
    for s in ('left', 'bottom'):
        ax.spines[s].set_color('#222222')
        ax.spines[s].set_linewidth(1.0)
    ax.set_xlabel('')
    ax.set_ylabel('')


def scatter(ax, pts, color, size):
    df = pd.DataFrame(pts, columns=['mass', 'value'])
    sns.scatterplot(data=df, x='mass', y='value', ax=ax, marker='D', s=size,
                    color=color, edgecolor='none', linewidth=0, zorder=3, clip_on=False)


# panel 1: radius vs mass
ax1 = axes_px(13, 261)
scatter(ax1, radius_pts, 'black', 30)
style(ax1, (0.5, 4), [1, 2, 3, 4], [0.5, 1.5, 2.5, 3.5], '%d', 15, True)
ax1.spines['top'].set_color('#222222')
ax1.tick_params(axis='y', pad=6)
ax1.tick_params(axis='x', pad=8)
fig.text(4 / W, 1 - 62 / H, r'$\mathbf{R/R_E}$', fontsize=17, ha='left', va='baseline')
fig.text(458 / W, 1 - 296 / H, r'$\mathbf{M/M_E}$', fontsize=15, ha='left', va='baseline')

# panel 2: water amount
ax2 = axes_px(353, 531)
scatter(ax2, water_pts, DOT, 26)
style(ax2, (0, 80), [0, 20, 40, 60, 80], list(range(10, 80, 20)), '%d', 12.5, False)
fig.text(37 / W, 1 - 435 / H, 'Water amount (% wt)', rotation=90, fontsize=17,
         ha='center', va='center')

# panel 3: Fe/Si
ax3 = axes_px(545, 725)
scatter(ax3, fe_si_pts, DOT, 26)
style(ax3, (0.6, 1.4), [0.6, 0.8, 1.0, 1.2, 1.4], [0.7, 0.9, 1.1, 1.3], '%.1f', 12.5, False)
fig.text(37 / W, 1 - 630 / H, 'Fe/Si', rotation=90, fontsize=15, ha='center', va='center')

# panel 4: Mg/Si
ax4 = axes_px(739, 939.5)
scatter(ax4, mg_si_pts, DOT, 26)
style(ax4, (0.6, 2.0), [0.6, 1.0, 1.4, 1.8], [0.8, 1.2, 1.6, 2.0], '%.1f', 12.5, False)
fig.text(37 / W, 1 - 836 / H, 'Mg/Si', rotation=90, fontsize=15, ha='center', va='center')

# panel 5: Mg number
ax5 = axes_px(954, 1153)
scatter(ax5, mg_num_pts, DOT, 26)
style(ax5, (0.6, 1.0), [0.6, 0.7, 0.8, 0.9, 1.0], [0.65, 0.75, 0.85, 0.95], '%.1f', 12.5, True)
fig.text(38 / W, 1 - 1053 / H, 'Mg#', rotation=90, fontsize=15, ha='center', va='center')
fig.text(446 / W, 1 - 1184 / H, r'$\mathit{M/M_E}$', fontsize=15, ha='left', va='baseline')

fig.savefig('out.png', dpi=100)
